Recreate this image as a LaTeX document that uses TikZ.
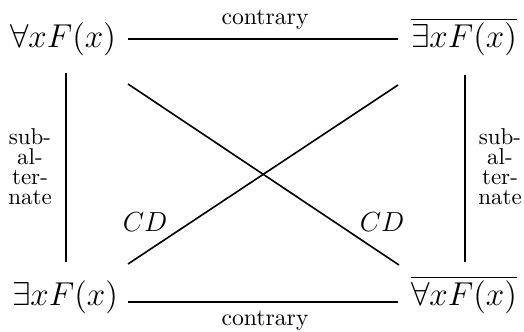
\documentclass[tikz,border=0pt]{standalone}
\begin{document}
\begin{tikzpicture}[x=0.435pt,y=-0.435pt,
  formula/.style={inner sep=0pt,anchor=base,font=\fontsize{13.5}{16}\selectfont},
  wordlab/.style={inner sep=0pt,anchor=base,font=\fontsize{10.3}{12}\selectfont},
  sidelab/.style={inner sep=0pt,align=center,font=\fontsize{10}{8.7}\selectfont},
  cdlab/.style={inner sep=0pt,anchor=base,font=\fontsize{12}{14}\selectfont},
  rel/.style={line width=0.7pt}]
\useasboundingbox (0,0) rectangle (524,331);
% corner formulas
\node[formula] (A) at (63,47) {$\forall x F(x)$};
\node[formula] (E) at (464,47) {$\overline{\exists x F(x)}$};
\node[formula] (I) at (65,305) {$\exists x F(x)$};
\node[formula] (O) at (464,305) {$\overline{\forall x F(x)}$};
% connector end points
\coordinate (t1) at (128,39);  \coordinate (t2) at (398,39);
\coordinate (b1) at (128,302); \coordinate (b2) at (398,302);
\coordinate (l1) at (66,73);   \coordinate (l2) at (66,262);
\coordinate (r1) at (465,75);  \coordinate (r2) at (465,262);
\coordinate (d1) at (128,84);  \coordinate (d2) at (399,265);
\coordinate (e1) at (128,264); \coordinate (e2) at (398,85);
% connectors
\draw[rel] (t1) -- (t2);
\draw[rel] (b1) -- (b2);
\draw[rel] (l1) -- (l2);
\draw[rel] (r1) -- (r2);
\draw[rel] (d1) -- (d2);
\draw[rel] (e1) -- (e2);
% labels
\node[wordlab] (ct) at (265,24) {contrary};
\node[wordlab] (cb) at (265,325) {contrary};
\node[sidelab] (sl) at (30,167) {sub-\\al-\\ter-\\nate};
\node[sidelab] (sr) at (500,167) {sub-\\al-\\ter-\\nate};
\node[cdlab] (cd1) at (145,231) {$CD$};
\node[cdlab] (cd2) at (382,231) {$CD$};
\end{tikzpicture}
\end{document}
